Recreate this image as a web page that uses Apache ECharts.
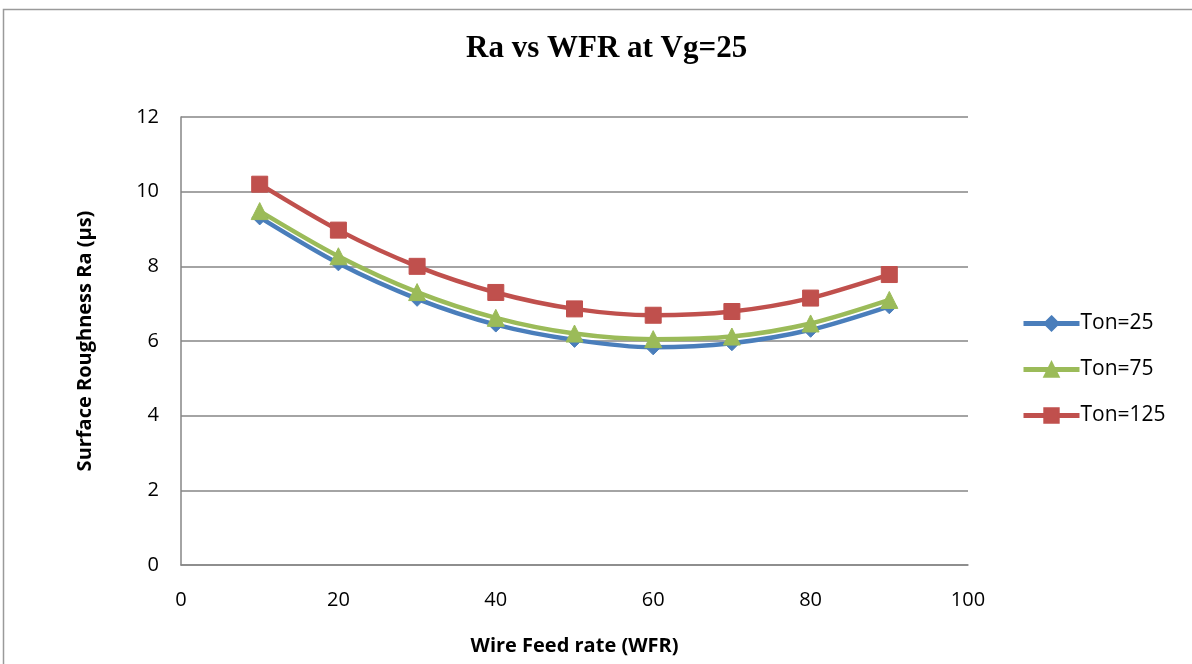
<!DOCTYPE html>
<html><head><meta charset="utf-8">
<script src="https://cdn.jsdelivr.net/npm/echarts@6/dist/echarts.min.js"></script>
<style>html,body{margin:0;padding:0;background:#fff;overflow:hidden}#c{width:1192px;height:664px}</style>
</head><body><div id="c"></div>
<script>
const wfr = [10, 20, 30, 40, 50, 60, 70, 80, 90];
const ton25 = [9.31, 8.08, 7.13, 6.44, 6.03, 5.83, 5.94, 6.30, 6.93];
const ton75 = [9.48, 8.27, 7.31, 6.62, 6.20, 6.05, 6.12, 6.47, 7.10];
const ton125 = [10.20, 8.97, 8.00, 7.30, 6.86, 6.69, 6.79, 7.15, 7.78];
const seriesNames = ['Ton=25', 'Ton=75', 'Ton=125'];
const xTicks = [0, 20, 40, 60, 80, 100];
const yTicks = [0, 2, 4, 6, 8, 10, 12];

const font = 'Open Sans, Noto Sans, sans-serif';
const colors = ['#4A7EBB', '#9BBB59', '#C0504D'];
const symbols = ['diamond', 'triangle', 'rect'];
const sizes = [15, 17, 16];
const datas = [ton25, ton75, ton125];

const chart = echarts.init(document.getElementById('c'));
chart.setOption({
  animation: false,
  backgroundColor: '#fff',
  graphic: [{type: 'rect', shape: {x: 3.5, y: 9.5, width: 1200, height: 700}, style: {fill: 'none', stroke: '#9a9a9a', lineWidth: 1.5}, silent: true}],
  title: {text: 'Ra vs WFR at Vg=25', left: 461, top: 28,
    textStyle: {fontFamily: 'Liberation Serif, serif', fontWeight: 'bold', fontSize: 31, color: '#000'}},
  legend: {orient: 'vertical', left: 1016, top: 308, itemGap: 25, itemWidth: 56, itemHeight: 18,
    data: seriesNames, lineStyle: {width: 5},
    textStyle: {fontFamily: font, fontSize: 21, color: '#000', padding: [0,0,0,-4]}},
  grid: {left: 181, right: 224, top: 117, bottom: 99, outerBoundsMode: 'none'},
  xAxis: {type: 'value', min: xTicks[0], max: xTicks[xTicks.length-1], interval: 20,
    name: 'Wire Feed rate (WFR)', nameLocation: 'middle', nameGap: 71,
    nameTextStyle: {fontFamily: font, fontWeight: 'bold', fontSize: 20, color: '#000'},
    axisLine: {show: true, lineStyle: {color: '#868686', width: 1.5}},
    axisTick: {show: false}, splitLine: {show: false},
    axisLabel: {fontFamily: font, fontSize: 20, color: '#000', margin: 25}},
  yAxis: {type: 'value', min: yTicks[0], max: yTicks[yTicks.length-1], interval: 2,
    name: 'Surface Roughness Ra (µs)', nameLocation: 'middle', nameGap: 86,
    nameTextStyle: {fontFamily: font, fontWeight: 'bold', fontSize: 20, color: '#000'},
    axisLine: {show: true, lineStyle: {color: '#868686', width: 1.5}},
    axisTick: {show: false},
    splitLine: {show: true, lineStyle: {color: '#868686', width: 1.5}},
    axisLabel: {fontFamily: font, fontSize: 20, color: '#000', margin: 22}},
  series: seriesNames.map((n, i) => ({
    name: n, type: 'line', smooth: 0.3,
    data: wfr.map((x, j) => [x, datas[i][j]]),
    symbol: symbols[i], symbolSize: sizes[i], showAllSymbol: true,
    lineStyle: {color: colors[i], width: 4.5},
    itemStyle: {color: colors[i], borderColor: colors[i], borderWidth: 1}
  }))
});
</script></body></html>
